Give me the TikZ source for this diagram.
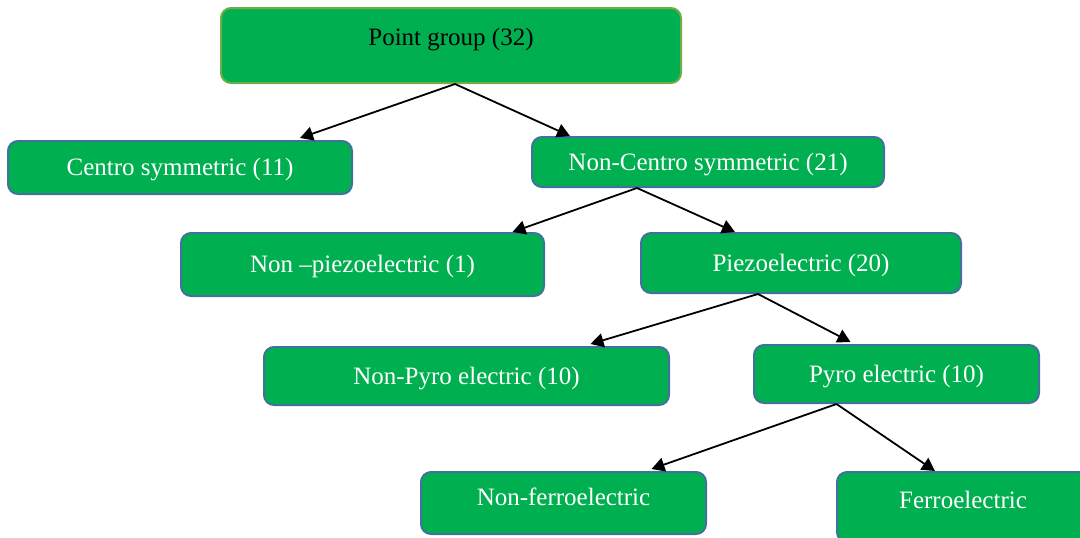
\documentclass[tikz,border=0pt]{standalone}
\usepackage{fontspec}
\setmainfont{Liberation Serif}
\usepackage{tikz}
\usetikzlibrary{arrows.meta}

\definecolor{boxgreen}{HTML}{00B050}
\definecolor{topedge}{HTML}{70AD47}
\definecolor{boxedge}{HTML}{41719C}

\begin{document}
\begin{tikzpicture}[x = 0.5pt, y = -0.5pt,
        classbox/.style = {draw = boxedge, fill = boxgreen, line width = 1pt,
            rounded corners = 5pt, text = white, inner sep = 0pt,
            text height = 8.3pt, text depth = 0pt,
            font = \fontsize{12.5}{15}\selectfont},
        topbox/.style = {classbox, draw = topedge, text = black},
        branch/.style = {-{Triangle[length = 6.5pt, width = 7pt]}, line width = 0.9pt}]
            \useasboundingbox (0, 0) rectangle (1080, 537);
            % boxes
            \node [topbox, minimum width = 230pt, minimum height = 37.5pt,
                text height = 9pt, text depth = 9.5pt] (pg) at (451, 45.5) {Point group (32)};
            \node [classbox, minimum width = 172pt, minimum height = 26.5pt] (cs) at (180, 167.5) {Centro symmetric (11)};
            \node [classbox, minimum width = 176pt, minimum height = 25pt] (ncs) at (708, 162) {Non-Centro symmetric (21)};
            \node [classbox, minimum width = 181.5pt, minimum height = 31.5pt] (npz) at (362.5, 264.5) {Non --piezoelectric (1)};
            \node [classbox, minimum width = 160pt, minimum height = 30pt] (pz) at (801, 263) {Piezoelectric (20)};
            \node [classbox, minimum width = 202.5pt, minimum height = 29pt] (npy) at (466.5, 376) {Non-Pyro electric (10)};
            \node [classbox, minimum width = 142.5pt, minimum height = 29pt] (py) at (896.5, 374) {Pyro electric (10)};
            \node [classbox, minimum width = 142.5pt, minimum height = 31pt,
                text depth = 6pt] (nfe) at (563.5, 503) {Non-ferroelectric};
            \node [classbox, minimum width = 126pt, minimum height = 35pt,
                text depth = 7pt] (fe) at (963, 507) {Ferroelectric};
            % arrows
            \draw [branch] ([xshift = 2pt] pg.south) -- ([xshift = 60pt, yshift = 1pt] cs.north);
            \draw [branch] ([xshift = 2pt] pg.south) -- ([xshift = -69pt] ncs.north);
            \draw [branch] ([xshift = -35.5pt] ncs.south) -- ([xshift = 75pt] npz.north);
            \draw [branch] ([xshift = -35.5pt] ncs.south) -- ([xshift = -33pt] pz.north);
            \draw [branch] ([xshift = -21.5pt] pz.south) -- ([xshift = 62pt, yshift = 1pt] npy.north);
            \draw [branch] ([xshift = -21.5pt] pz.south) -- ([xshift = -23pt, yshift = 1pt] py.north);
            \draw [branch] ([xshift = -30pt] py.south) -- ([xshift = 44pt, yshift = 1pt] nfe.north);
            \draw [branch] ([xshift = -30pt] py.south) -- ([xshift = -14pt] fe.north);
        \end{tikzpicture}
\end{document}
